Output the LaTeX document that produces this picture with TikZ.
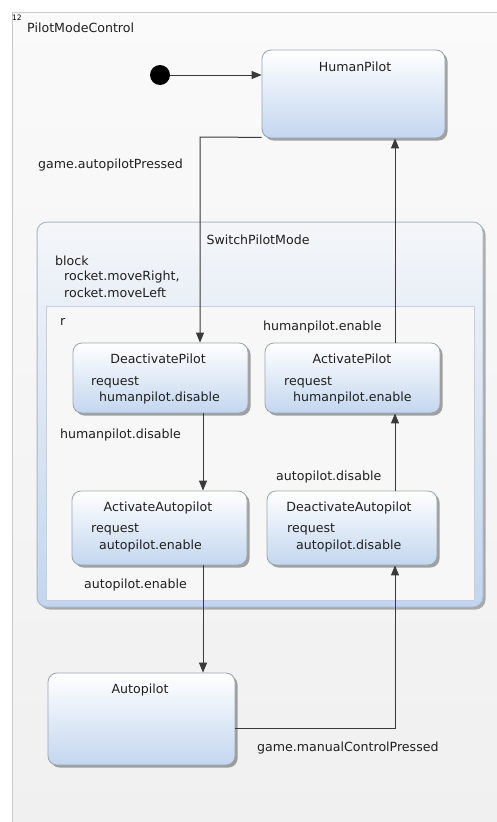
\documentclass[tikz,border=0pt]{standalone}
\usepackage{fontspec}
\setmainfont{DejaVu Sans}
\usetikzlibrary{shadows,arrows.meta}
\definecolor{stateblue}{HTML}{C3D6EF}
\definecolor{stateborder}{HTML}{9AA3AE}
\definecolor{framegray}{HTML}{C8C8C8}
\definecolor{arrowgray}{HTML}{3A3A3A}
\definecolor{compborder}{HTML}{A9B6C6}
\definecolor{regionborder}{HTML}{C6D0DC}
\definecolor{comptop}{HTML}{F4F6F9}
\tikzset{
  statebox/.style={draw=stateborder, line width=0.8pt, rounded corners=9pt,
    top color=white, bottom color=stateblue,
    drop shadow={shadow xshift=2.5pt, shadow yshift=-2.5pt, opacity=0.35, fill=black},
    inner sep=0pt},
  lbl/.style={inner sep=0pt, anchor=west, font=\fontsize{12.6}{14}\selectfont, text=black!88},
  ttl/.style={inner sep=0pt, font=\fontsize{12.6}{14}\selectfont, text=black!88},
  arr/.style={draw=arrowgray, line width=1pt, -{Triangle[length=10pt,width=8pt]}},
}
\begin{document}
\begin{tikzpicture}[x=1pt,y=-1pt]
\useasboundingbox (0,0) rectangle (497,822);
\fill[white] (0,0) rectangle (497,822);
% outer frame
\path[draw=framegray, line width=1pt, top color=black!2, bottom color=black!6] (12,12) rectangle (530,850);
\node[inner sep=0pt, font=\fontsize{7.5}{8}\selectfont] (num) at (17,18) {12};
\node[lbl] (title) at (27,28) {PilotModeControl};

% initial pseudo-state
\node[circle, fill=black, minimum size=20pt, inner sep=0pt] (init) at (160,75) {};

% HumanPilot
\node[statebox, minimum width=183pt, minimum height=88pt] (hp) at (353.5,94) {};
\node[ttl] (hpt) at (355,67) {HumanPilot};

% composite SwitchPilotMode
\node[draw=compborder, line width=1pt, rounded corners=10pt, top color=comptop, bottom color=stateblue,
  drop shadow={shadow xshift=2.5pt, shadow yshift=-2.5pt, opacity=0.3, fill=black},
  minimum width=446pt, minimum height=385pt, inner sep=0pt] (sw) at (260,414.5) {};
\node[ttl] (swt) at (258,240) {SwitchPilotMode};
\node[lbl] (blk1) at (55,261) {block};
\node[lbl] (blk2) at (64,277) {rocket.moveRight,};
\node[lbl] (blk3) at (64,293) {rocket.moveLeft};

% region r
\node[draw=regionborder, line width=0.8pt, fill=black!3, minimum width=428pt, minimum height=294pt, inner sep=0pt] (reg) at (260,453) {};
\node[lbl] (rl) at (60,322) {r};

% DeactivatePilot
\node[statebox, minimum width=175pt, minimum height=70pt] (dp) at (160.5,378) {};
\node[ttl] (dpt) at (158,359) {DeactivatePilot};
\node[lbl] (dpr) at (91,382) {request};
\node[lbl] (dpa) at (99,398) {humanpilot.disable};

% ActivatePilot
\node[statebox, minimum width=175pt, minimum height=70pt] (ap) at (352.5,378) {};
\node[ttl] (apt) at (352,359) {ActivatePilot};
\node[lbl] (apr) at (284,382) {request};
\node[lbl] (apa) at (293,398) {humanpilot.enable};

% ActivateAutopilot
\node[statebox, minimum width=175pt, minimum height=74pt] (aa) at (159.5,528) {};
\node[ttl] (aat) at (158,508) {ActivateAutopilot};
\node[lbl] (aar) at (91,529) {request};
\node[lbl] (aaa) at (99,546) {autopilot.enable};

% DeactivateAutopilot
\node[statebox, minimum width=170pt, minimum height=74pt] (da) at (352,528) {};
\node[ttl] (dat) at (349,508) {DeactivateAutopilot};
\node[lbl] (dar) at (287,529) {request};
\node[lbl] (daa) at (296,546) {autopilot.disable};

% Autopilot
\node[statebox, minimum width=187pt, minimum height=92pt] (apl) at (141.5,719) {};
\node[ttl] (aplt) at (140,690) {Autopilot};

% coordinates for connector routing
\coordinate (k1) at (200,137);
\coordinate (cL) at (203,0);
\coordinate (cR) at (395,0);
\coordinate (k2) at (395,728);

% connectors
\draw[arr] (init.east) -- (init.east -| hp.west);
\draw[arr] (hp.south west) ++(0,-1) -- (k1) -- (k1 |- dp.north);
\draw[arr] (dp.south -| cL) -- (aa.north -| cL);
\draw[arr] (aa.south -| cL) -- (apl.north -| cL);
\draw[arr] (apl.east |- k2) -- (k2) -- (da.south -| cR);
\draw[arr] (da.north -| cR) -- (ap.south -| cR);
\draw[arr] (ap.north -| cR) -- (hp.south -| cR);

% transition labels
\node[lbl] (t1) at (38,165) {game.autopilotPressed};
\node[lbl] (t2) at (263,327) {humanpilot.enable};
\node[lbl] (t3) at (60,435) {humanpilot.disable};
\node[lbl] (t4) at (276,477) {autopilot.disable};
\node[lbl] (t5) at (84,585) {autopilot.enable};
\node[lbl] (t6) at (257,748) {game.manualControlPressed};
\end{tikzpicture}
\end{document}
